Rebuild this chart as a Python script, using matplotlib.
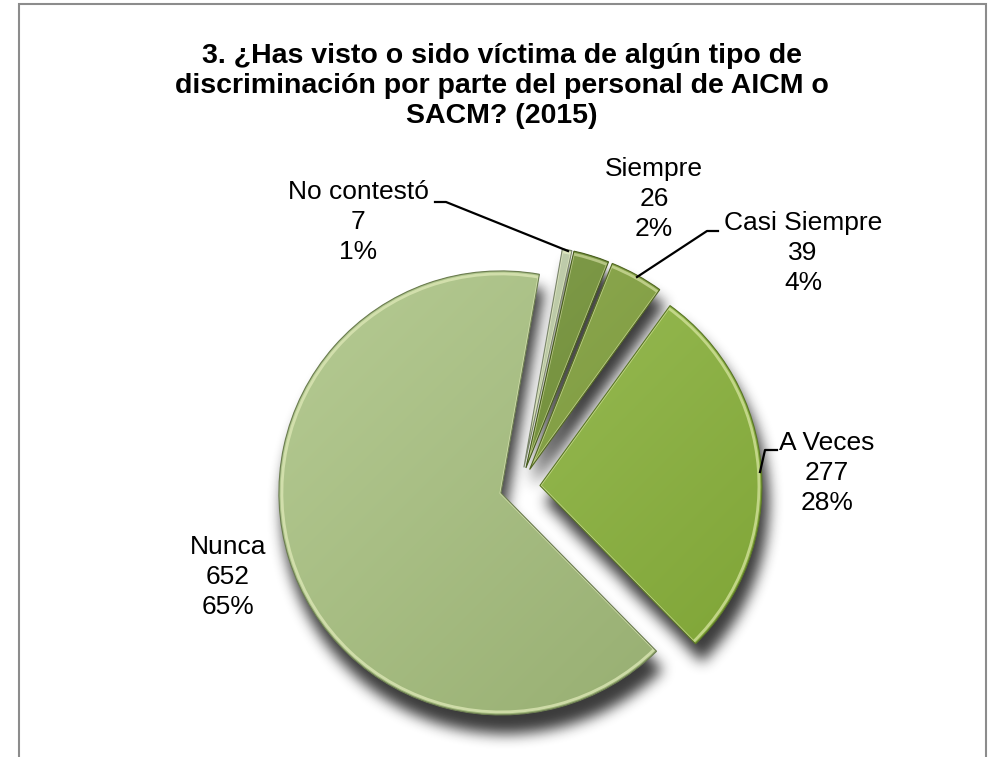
import numpy as np
import matplotlib
matplotlib.use('Agg')
import matplotlib.pyplot as plt
from matplotlib.colors import to_rgb
from matplotlib.patches import Rectangle, Wedge

# datos
categorias = ['Siempre', 'Casi Siempre', 'A Veces', 'Nunca', 'No contestó']
valores = [26, 39, 277, 652, 7]
porcentajes = [2, 4, 28, 65, 1]
colores = ['#6e8f2e', '#7e9f36', '#8bb53a', '#a6c07c', '#bccca4']

titulo = ('3. ¿Has visto o sido víctima de algún tipo de\n'
          'discriminación por parte del personal de AICM o\n'
          'SACM? (2015)')

# posiciones de etiquetas (pixeles desde arriba-izquierda)
pos_etiquetas = [(654, 199), (803, 253), (827, 473), (228, 577), (358, 222)]
guias = [None,
         [(718, 231), (707, 231), (637, 277)],
         [(777, 450), (765, 450), (760, 472)],
         None,
         [(435, 202), (446, 202), (568, 251)]]

W, H = 1002, 757
plt.rcParams['font.family'] = ['Liberation Sans', 'DejaVu Sans']

fig = plt.figure(figsize=(W / 100, H / 100), dpi=100)
ax = fig.add_axes([0, 0, 1, 1])


def py(y):
    return H - y


def mezcla(c, otro, t):
    c = np.array(to_rgb(c))
    return tuple(c * (1 - t) + np.array(otro) * t)


radio = 222
centro = (520, py(487))
wedges, _ = ax.pie(valores, colors=colores, startangle=77.5, counterclock=False,
                   explode=[0.09 * radio] * len(valores), center=centro,
                   radius=radio, frame=True,
                   wedgeprops=dict(linewidth=0, zorder=3))
ax.set_xlim(0, W)
ax.set_ylim(0, H)
ax.set_aspect('equal')
ax.axis('off')

# sombra difusa
yy, xx = np.mgrid[0:H, 0:W] + 0.5
mascara = np.zeros((H, W))
sdx, sdy = 5, 17
for w in wedges:
    cx, cy = w.center
    dx = xx - cx - sdx
    dy = yy - (py(cy) + sdy)
    ang = np.degrees(np.arctan2(-dy, dx)) % 360
    t1 = w.theta1 % 360
    span = (w.theta2 - w.theta1) % 360
    dentro = (np.hypot(dx, dy) <= w.r + 2) & (((ang - t1) % 360) <= span)
    mascara[dentro] = 1


def desenfocar(img, r):
    for eje in (0, 1):
        pad = [(r + 1, r) if a == eje else (0, 0) for a in range(2)]
        c = np.cumsum(np.pad(img, pad, mode='edge'), axis=eje)
        n = c.shape[eje]
        img = (np.take(c, np.arange(2 * r + 1, n), eje)
               - np.take(c, np.arange(0, n - 2 * r - 1), eje)) / (2 * r + 1)
    return img


for _ in range(3):
    mascara = desenfocar(mascara, 6)
sombra = np.zeros((H, W, 4))
sombra[..., :3] = 0.1
sombra[..., 3] = mascara * 0.85
ax.imshow(sombra, extent=(0, W, 0, H), origin='upper', zorder=2,
          interpolation='bilinear')

# degradado y biselado de cada porcion
g = np.linspace(0, 1, 80)
t = (g[None, :] + g[:, None]) / 2
for w, col in zip(wedges, colores):
    cx, cy = w.center
    r = w.r
    claro = np.array(mezcla(col, (1, 1, 1), 0.18))
    oscuro = np.array(mezcla(col, (0, 0, 0), 0.10))
    img = claro * (1 - t[..., None]) + oscuro * t[..., None]
    im = ax.imshow(img, extent=(cx - r, cx + r, cy - r, cy + r), origin='upper',
                   zorder=3.2, interpolation='bilinear')
    im.set_clip_path(w)
    luz = Wedge(w.center, r - 3, w.theta1, w.theta2, fill=False,
                edgecolor=mezcla(col, (1, 1, 0.85), 0.6), lw=2.0, alpha=0.8,
                zorder=3.4)
    ax.add_patch(luz)
    luz.set_clip_path(w)
    borde = Wedge(w.center, r, w.theta1, w.theta2, fill=False,
                  edgecolor=mezcla(col, (0, 0, 0), 0.35), lw=0.8, zorder=3.5)
    ax.add_patch(borde)

# etiquetas
for cat, v, p, (x, y), guia in zip(categorias, valores, porcentajes,
                                   pos_etiquetas, guias):
    ax.text(x, py(y), f'{cat}\n{v}\n{p}%', ha='center', va='center',
            fontsize=19, linespacing=1.3, color='black', zorder=5)
    if guia:
        gx = [a for a, b in guia]
        gy = [py(b) for a, b in guia]
        ax.plot(gx, gy, color='black', lw=1.6, zorder=5)

ax.text(502, py(86), titulo, ha='center', va='center', fontsize=20.5,
        fontweight='bold', linespacing=1.22, zorder=5)

ax.add_patch(Rectangle((19, -20), 967, py(4) + 20, fill=False,
                       edgecolor='#8c8c8c', lw=1.5, zorder=6, clip_on=False))

fig.savefig('out.png', dpi=100)
